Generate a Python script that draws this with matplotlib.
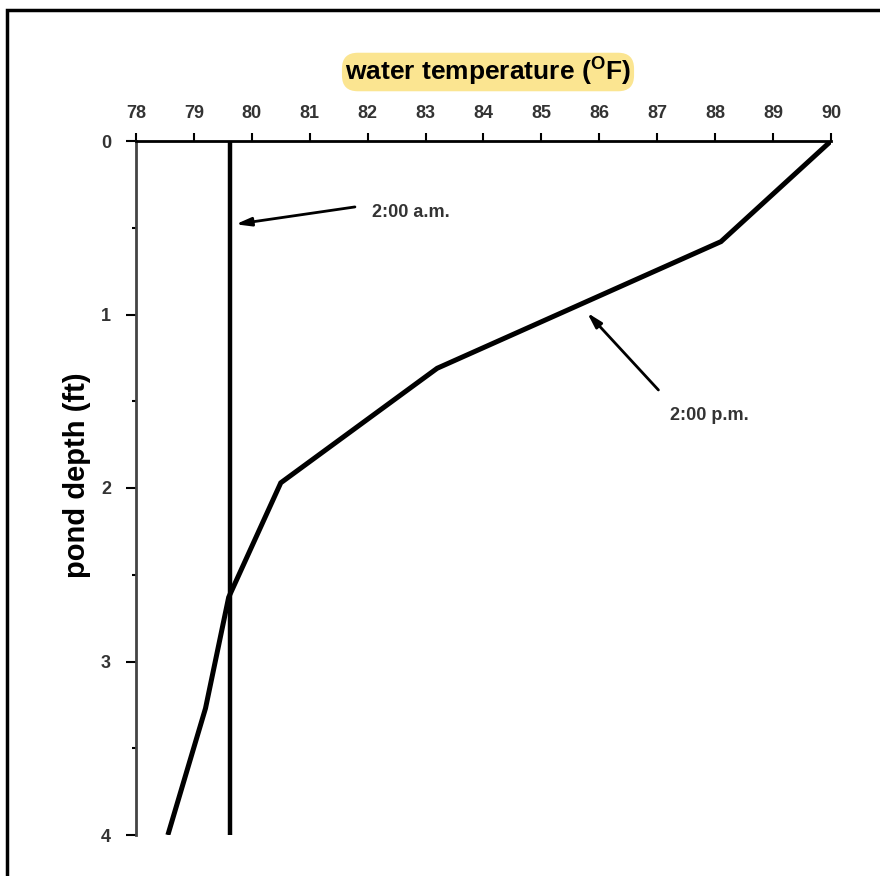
import matplotlib.pyplot as plt
from matplotlib.patches import Rectangle

plt.rcParams['font.family'] = ['Liberation Sans', 'DejaVu Sans']
plt.rcParams['mathtext.fontset'] = 'custom'
plt.rcParams['mathtext.bf'] = 'Liberation Sans:bold'
plt.rcParams['mathtext.rm'] = 'Liberation Sans'

# 2:00 a.m. profile - same temperature at every depth
am_depth = [0, 4]
am_temp = [79.62, 79.62]

# 2:00 p.m. profile
pm_depth = [0, 0.58, 1.31, 1.97, 2.63, 3.27, 4.0]
pm_temp = [90.0, 88.1, 83.2, 80.5, 79.6, 79.2, 78.55]

x_ticks = list(range(78, 91))
y_ticks = [0, 1, 2, 3, 4]

fig = plt.figure(figsize=(8.8, 8.76), dpi=100)
ax = fig.add_axes([136 / 880, 1 - 835 / 876, (831 - 136) / 880, (835 - 141) / 876])

ax.plot(am_temp, am_depth, color='black', lw=3.2, solid_capstyle='butt')
ax.plot(pm_temp, pm_depth, color='black', lw=3.6, solid_capstyle='butt', solid_joinstyle='miter')

ax.set_xlim(78, 90)
ax.set_ylim(4, 0)
ax.xaxis.tick_top()
ax.set_xticks(x_ticks)
ax.set_yticks(y_ticks)
ax.set_yticks([0.5, 1.5, 2.5, 3.5], minor=True)
ax.tick_params(axis='x', direction='out', length=6, width=1.5, pad=8,
               labelsize=13, labelcolor='#333333')
ax.tick_params(axis='y', which='major', direction='out', length=7, width=1.5, pad=11,
               labelsize=13, labelcolor='#333333')
ax.tick_params(axis='y', which='minor', direction='out', length=3, width=1.5)
for lab in ax.get_xticklabels() + ax.get_yticklabels():
    lab.set_fontweight('bold')

ax.spines['right'].set_visible(False)
ax.spines['bottom'].set_visible(False)
ax.spines['top'].set_linewidth(2)
ax.spines['left'].set_linewidth(2)
ax.spines['left'].set_color('#444444')

ax.set_ylabel('pond depth (ft)', fontsize=21, fontweight='bold', va='center')
ax.yaxis.set_label_coords(-0.085, 0.519)

fig.text(488 / 880, 1 - 72 / 876, r'water temperature ($\mathbf{^{O}}$F)',
         ha='center', va='center', fontsize=19, fontweight='bold',
         bbox=dict(boxstyle='round,pad=0.12,rounding_size=0.6', fc='#fbe591', ec='none'))

arrow = dict(arrowstyle='-|>,head_length=0.9,head_width=0.25', color='black', lw=2,
             shrinkA=0, shrinkB=0)
ax.annotate('', xy=(79.72, 0.48), xytext=(81.78, 0.38), arrowprops=arrow)
ax.text(82.08, 0.41, '2:00 a.m.', ha='left', va='center', fontsize=13,
        fontweight='bold', color='#333333')
ax.annotate('', xy=(85.79, 0.99), xytext=(87.02, 1.435), arrowprops=arrow)
ax.text(87.22, 1.585, '2:00 p.m.', ha='left', va='center', fontsize=13,
        fontweight='bold', color='#333333')

# frame around the figure
fig.patches.append(Rectangle((7 / 880, -0.1), 1.2, 1 - 10 / 876 + 0.1,
                             transform=fig.transFigure, fill=False,
                             ec='black', lw=2.5))

fig.savefig('out.png', dpi=100)
